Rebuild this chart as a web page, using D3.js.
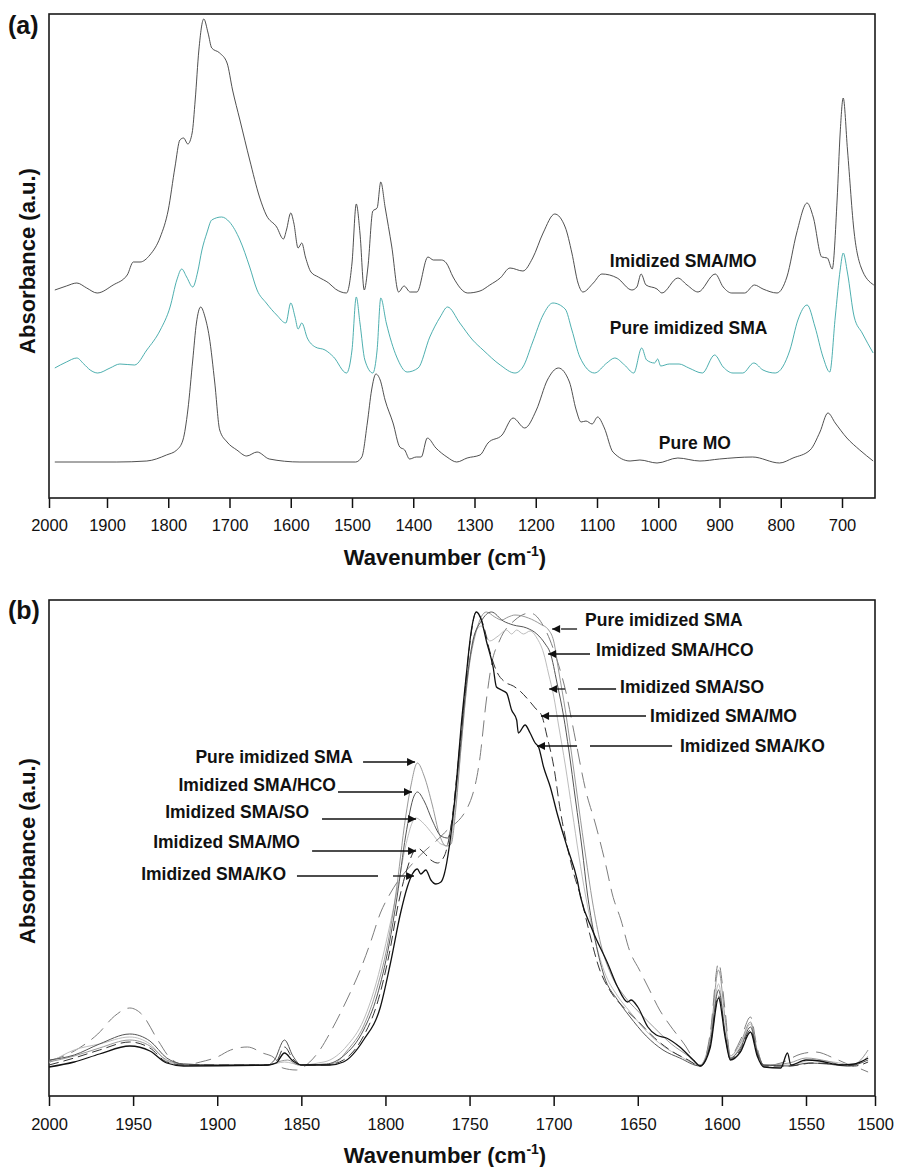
<!DOCTYPE html>
<html>
<head>
<meta charset="utf-8">
<script src="https://cdn.jsdelivr.net/npm/d3@7"></script>
<style>
  body { margin: 0; background: #fff; }
  svg text { font-family: "Liberation Sans", Arial, Helvetica, sans-serif; fill: #111; }
</style>
</head>
<body>
<div id="chart"></div>
<script>
// ---- data: [wavenumber, absorbance (a.u.)] ----
const ticksA = [2000, 1900, 1800, 1700, 1600, 1500, 1400, 1300, 1200, 1100, 1000, 900, 800, 700];
const ticksB = [2000, 1950, 1900, 1850, 1800, 1750, 1700, 1650, 1600, 1550, 1500];

// panel (a)
const imidizedSmaMo = [[1990,208],[1970,212],[1952,215],[1935,210],[1917,205],[1890,213],[1867,223],[1857,236],[1846,236],[1830,243],[1813,261],[1800,288],[1789,331],[1781,358],[1775,360],[1768,354],[1761,365],[1756,398],[1750,448],[1742,479],[1735,465],[1729,450],[1716,445],[1704,435],[1695,408],[1683,378],[1667,338],[1651,301],[1640,283],[1623,271],[1612,259],[1607,268],[1600,285],[1595,275],[1588,250],[1582,255],[1576,241],[1567,226],[1555,221],[1538,215],[1527,209],[1509,205],[1500,235],[1493,294],[1487,265],[1480,208],[1474,231],[1466,287],[1459,290],[1453,316],[1446,291],[1435,251],[1424,206],[1415,212],[1405,206],[1394,206],[1376,241],[1367,238],[1354,238],[1346,235],[1335,221],[1311,205],[1291,207],[1275,213],[1258,220],[1242,230],[1221,227],[1205,240],[1188,265],[1169,284],[1152,271],[1141,245],[1131,215],[1123,206],[1106,215],[1092,224],[1067,220],[1043,208],[1035,211],[1028,224],[1020,213],[1002,209],[994,205],[968,220],[953,213],[935,206],[907,224],[894,211],[880,205],[859,205],[843,213],[829,209],[806,205],[790,221],[774,265],[757,295],[747,281],[733,241],[724,240],[716,229],[708,298],[703,365],[698,400],[691,348],[680,265],[669,231],[648,213]];

const pureImidizedSma = [[1990,130],[1970,136],[1952,140],[1940,134],[1929,128],[1916,125],[1895,130],[1879,134],[1855,133],[1835,148],[1813,168],[1797,191],[1786,218],[1778,229],[1770,221],[1760,211],[1752,226],[1745,248],[1737,265],[1729,278],[1713,281],[1700,276],[1683,258],[1667,231],[1655,208],[1640,195],[1623,183],[1608,175],[1600,195],[1593,181],[1588,169],[1582,175],[1573,160],[1560,151],[1544,148],[1530,141],[1509,125],[1500,148],[1493,201],[1487,175],[1479,138],[1466,125],[1459,148],[1453,200],[1444,175],[1427,141],[1410,126],[1392,130],[1373,161],[1356,181],[1344,191],[1324,175],[1303,158],[1286,148],[1258,133],[1234,125],[1221,131],[1205,156],[1188,183],[1172,195],[1152,189],[1141,168],[1128,141],[1104,125],[1084,135],[1071,140],[1055,133],[1040,125],[1027,150],[1019,138],[1006,135],[1001,139],[996,132],[982,134],[966,134],[950,130],[928,125],[908,143],[894,131],[878,125],[862,125],[844,135],[829,128],[809,125],[785,148],[772,178],[757,193],[744,171],[731,141],[720,126],[711,181],[703,228],[698,245],[691,225],[680,181],[667,165],[649,145]];

const pureMo = [[1990,36],[1884,36],[1835,37],[1803,43],[1786,48],[1776,58],[1768,88],[1760,138],[1754,175],[1747,191],[1740,181],[1733,161],[1724,115],[1716,68],[1704,56],[1688,48],[1672,42],[1655,46],[1635,39],[1585,36],[1494,36],[1484,41],[1475,75],[1468,108],[1461,124],[1454,118],[1446,98],[1433,75],[1422,51],[1414,48],[1406,39],[1395,41],[1387,41],[1377,60],[1363,50],[1345,41],[1329,36],[1312,40],[1291,43],[1278,55],[1255,63],[1237,80],[1218,70],[1199,88],[1181,118],[1163,130],[1145,116],[1134,88],[1126,76],[1118,77],[1108,74],[1099,81],[1088,70],[1074,46],[1046,37],[1030,38],[1002,35],[968,40],[932,37],[900,39],[846,41],[802,35],[780,40],[752,48],[736,66],[723,85],[711,75],[692,60],[671,48],[649,37]];

// panel (b)
const bDashed = [[2000,35],[1985,45],[1971,62],[1961,80],[1952,88],[1945,82],[1935,55],[1928,38],[1919,31],[1910,34],[1900,39],[1892,46],[1882,49],[1873,43],[1866,38],[1861,28],[1853,26],[1845,34],[1839,46],[1833,63],[1823,96],[1815,126],[1809,153],[1803,183],[1797,203],[1782,236],[1765,263],[1750,293],[1744,336],[1740,396],[1737,431],[1732,456],[1723,476],[1714,483],[1704,463],[1698,436],[1693,406],[1687,356],[1681,306],[1675,271],[1669,231],[1665,201],[1660,176],[1655,146],[1649,126],[1643,106],[1637,86],[1631,71],[1622,51],[1615,33],[1612,30],[1607,62],[1602,133],[1598,84],[1595,40],[1589,56],[1583,79],[1579,48],[1575,30],[1565,33],[1553,42],[1543,44],[1530,38],[1520,32],[1512,28],[1505,24]];

const bThinGray = [[2000,34],[1985,40],[1970,48],[1952,56],[1940,50],[1930,36],[1920,32],[1900,31],[1870,31],[1862,35],[1858,36],[1852,31],[1840,31],[1830,33],[1823,45],[1813,70],[1805,108],[1798,158],[1794,200],[1788,279],[1785,309],[1781,333],[1777,320],[1772,290],[1768,262],[1764,250],[1761,252],[1758,290],[1755,350],[1751,420],[1746,465],[1740,484],[1735,479],[1731,476],[1727,479],[1723,481],[1715,478],[1708,472],[1703,466],[1700,455],[1697,425],[1693,385],[1689,338],[1685,288],[1681,240],[1677,195],[1672,152],[1666,122],[1658,100],[1650,85],[1640,68],[1630,52],[1620,40],[1613,31],[1607,58],[1602,126],[1598,76],[1595,40],[1589,53],[1583,74],[1579,46],[1575,31],[1560,33],[1550,38],[1535,35],[1520,30],[1512,34],[1505,46]];

const bHco = [[2000,36],[1985,41],[1970,52],[1952,62],[1940,55],[1930,38],[1920,32],[1900,31],[1870,31],[1866,36],[1860,56],[1855,40],[1850,31],[1835,32],[1825,40],[1813,66],[1805,100],[1798,150],[1793,200],[1788,260],[1783,300],[1781,304],[1777,295],[1772,275],[1767,260],[1763,258],[1760,280],[1756,340],[1752,410],[1748,455],[1743,475],[1737,484],[1730,475],[1724,471],[1716,468],[1710,462],[1705,452],[1702,443],[1698,413],[1694,379],[1691,346],[1687,296],[1683,246],[1680,203],[1676,162],[1670,120],[1662,96],[1655,80],[1645,60],[1635,46],[1625,38],[1613,30],[1607,52],[1602,106],[1598,62],[1595,38],[1589,48],[1583,69],[1579,44],[1575,31],[1560,30],[1548,33],[1535,32],[1520,30],[1505,36]];

const bSo = [[2000,33],[1985,46],[1970,52],[1952,59],[1940,52],[1930,35],[1920,31],[1870,31],[1860,34],[1850,31],[1840,33],[1833,36],[1823,50],[1813,76],[1805,116],[1798,166],[1793,206],[1788,250],[1782,278],[1777,272],[1772,262],[1767,252],[1762,250],[1759,280],[1755,350],[1751,420],[1747,462],[1743,470],[1738,455],[1733,460],[1728,466],[1725,462],[1722,466],[1718,462],[1714,465],[1710,458],[1706,443],[1703,422],[1700,400],[1697,370],[1693,330],[1689,285],[1685,240],[1681,200],[1676,160],[1670,125],[1662,100],[1655,85],[1645,65],[1635,50],[1625,40],[1613,31],[1607,54],[1602,112],[1598,64],[1595,38],[1589,50],[1583,72],[1579,44],[1575,31],[1560,31],[1545,36],[1530,34],[1515,31],[1505,40]];

const bMo = [[2000,31],[1985,38],[1970,46],[1952,54],[1940,48],[1930,34],[1920,31],[1870,31],[1865,34],[1860,49],[1855,37],[1850,31],[1835,31],[1825,36],[1813,60],[1805,92],[1798,140],[1792,195],[1787,228],[1783,245],[1781,248],[1777,243],[1773,236],[1769,233],[1765,240],[1761,270],[1757,330],[1753,400],[1750,450],[1746,484],[1742,472],[1738,445],[1734,425],[1729,414],[1724,410],[1720,405],[1716,398],[1711,388],[1707,380],[1704,360],[1700,330],[1696,285],[1692,250],[1688,222],[1684,200],[1679,165],[1673,128],[1666,104],[1658,88],[1650,75],[1640,58],[1630,45],[1620,36],[1613,30],[1607,50],[1602,100],[1598,60],[1595,37],[1589,46],[1583,66],[1579,42],[1575,30],[1560,30],[1545,33],[1530,32],[1515,30],[1505,34]];

const bKo = [[2000,29],[1985,34],[1970,42],[1952,50],[1940,45],[1930,33],[1920,30],[1870,31],[1865,33],[1860,43],[1855,35],[1850,31],[1833,31],[1825,34],[1813,56],[1803,89],[1797,133],[1791,183],[1787,209],[1784,222],[1781,227],[1779,222],[1776,226],[1773,216],[1770,212],[1767,214],[1765,222],[1762,250],[1758,310],[1755,370],[1752,420],[1749,465],[1746,484],[1743,476],[1740,455],[1736,429],[1734,409],[1731,406],[1728,403],[1725,386],[1722,376],[1721,363],[1717,371],[1714,363],[1711,353],[1709,349],[1706,329],[1702,309],[1698,283],[1692,249],[1686,216],[1684,199],[1677,166],[1668,133],[1662,109],[1656,94],[1654,96],[1650,89],[1644,69],[1639,61],[1633,58],[1625,49],[1617,36],[1613,30],[1607,48],[1602,98],[1598,58],[1595,36],[1589,44],[1583,64],[1579,40],[1575,29],[1565,28],[1561,43],[1559,31],[1550,36],[1540,35],[1525,31],[1515,32],[1505,38]];

// labels, anchored in data units
const labelsA = [
  { text: "Imidized SMA/MO", wn: 1079, h: 237 },
  { text: "Pure imidized SMA", wn: 1079, h: 170 },
  { text: "Pure MO", wn: 999, h: 55 }
];
const notesLeft = [
  { text: "Pure imidized SMA", wn: 1819.3, h: 339, ah: 334, segs: [[1813.3, 1782.4]] },
  { text: "Imidized SMA/HCO", wn: 1829.4, h: 311, ah: 304, segs: [[1828.2, 1784.2]] },
  { text: "Imidized SMA/SO", wn: 1845.4, h: 284, ah: 277, segs: [[1837.7, 1781.8]] },
  { text: "Imidized SMA/MO", wn: 1850.8, h: 254, ah: 245, segs: [[1843.6, 1781.8]] },
  { text: "Imidized SMA/KO", wn: 1859.1, h: 222, ah: 220, segs: [[1852.6, 1804.4], [1795.5, 1783]] }
];
const notesRight = [
  { text: "Pure imidized SMA", wn: 1681.3, h: 476, ah: 467, segs: [[1686.1, 1695.6], [1698.8, 1700.9]] },
  { text: "Imidized SMA/HCO", wn: 1674.8, h: 446, ah: 442, segs: [[1678.4, 1703.3]] },
  { text: "Imidized SMA/SO", wn: 1660.5, h: 409, ah: 407, segs: [[1662.9, 1685.5], [1693.2, 1702.7]] },
  { text: "Imidized SMA/MO", wn: 1642.7, h: 380, ah: 380, segs: [[1645.1, 1707.5]] },
  { text: "Imidized SMA/KO", wn: 1624.9, h: 350, ah: 350, segs: [[1629.6, 1678.4], [1686.1, 1709.9]] }
];

const width = 897, height = 1167;
const svg = d3.select("#chart").append("svg")
  .attr("width", width)
  .attr("height", height);

// filled arrow head for the callouts
svg.append("defs").append("marker")
  .attr("id", "arrow")
  .attr("viewBox", "0 0 10 10")
  .attr("refX", 10).attr("refY", 5)
  .attr("markerWidth", 11).attr("markerHeight", 8)
  .attr("markerUnits", "userSpaceOnUse")
  .attr("orient", "auto")
  .append("path")
  .attr("d", "M0,0L10,5L0,10z")
  .attr("fill", "#111");

// scales (the original axes are slightly uneven at the ends)
const xA = d3.scaleLinear().domain([2000, 1900, 700, 646]).range([49, 107, 842, 875]);
const yA = d3.scaleLinear().domain([0, 484]).range([498, 14]);
const xB = d3.scaleLinear().domain([2000, 1550, 1500]).range([49, 806, 875]);
const yB = d3.scaleLinear().domain([0, 496]).range([1096, 600]);

function drawPanel(x, y, ticks, pad, tag, tagY, titleY, yTitleY) {
  const xr = x.range();
  const x0 = xr[0], x1 = xr[xr.length - 1];
  const [y0, y1] = y.range();

  // ticks and tick labels
  const ax = svg.append("g")
    .attr("transform", `translate(0,${y0})`)
    .call(d3.axisBottom(x).tickValues(ticks).tickFormat(d3.format("d")).tickSize(10).tickPadding(pad));
  ax.select(".domain").remove();
  ax.attr("font-size", 16.5).attr("font-family", null).attr("color", "#111");
  ax.selectAll("line").attr("stroke-width", 1.5);

  // frame
  svg.append("rect")
    .attr("x", x0).attr("y", y1)
    .attr("width", x1 - x0).attr("height", y0 - y1)
    .attr("fill", "none")
    .attr("stroke", "#1a1a1a")
    .attr("stroke-width", 1.6);

  // x title
  const t = svg.append("text")
    .attr("x", 445).attr("y", titleY)
    .attr("text-anchor", "middle")
    .attr("font-size", 22).attr("font-weight", "bold");
  t.append("tspan").text("Wavenumber (cm");
  t.append("tspan").attr("font-size", 14).attr("dy", -9).text("-1");
  t.append("tspan").attr("dy", 9).text(")");

  // y title
  svg.append("text")
    .attr("transform", `translate(27,${yTitleY}) rotate(-90)`)
    .attr("text-anchor", "middle")
    .attr("dominant-baseline", "central")
    .attr("font-size", 22).attr("font-weight", "bold")
    .text("Absorbance (a.u.)");

  // panel tag
  svg.append("text")
    .attr("x", 8).attr("y", tagY)
    .attr("font-size", 25).attr("font-weight", "bold")
    .text(tag);
}

drawPanel(xA, yA, ticksA, 11, "(a)", 34, 565, 261);
drawPanel(xB, yB, ticksB, 12, "(b)", 619, 1163, 851);

function drawLine(x, y, data, color, w, dash) {
  const line = d3.line()
    .x(d => x(d[0]))
    .y(d => y(d[1]))
    .curve(d3.curveMonotoneX);
  svg.append("path")
    .datum(data)
    .attr("fill", "none")
    .attr("stroke", color)
    .attr("stroke-width", w)
    .attr("stroke-dasharray", dash || null)
    .attr("stroke-linejoin", "round")
    .attr("d", line);
}

// panel (a) spectra
drawLine(xA, yA, imidizedSmaMo, "#3c3c3c", 0.9);
drawLine(xA, yA, pureImidizedSma, "#3aa6a6", 0.9);
drawLine(xA, yA, pureMo, "#3c3c3c", 0.9);

svg.append("g").selectAll("text")
  .data(labelsA)
  .enter().append("text")
  .attr("x", d => xA(d.wn))
  .attr("y", d => yA(d.h))
  .attr("dy", "0.35em")
  .attr("font-size", 17.5).attr("font-weight", "bold")
  .text(d => d.text);

// panel (b) spectra
drawLine(xB, yB, bDashed, "#7d7d7d", 1, "16,8");
drawLine(xB, yB, bSo, "#bdbdbd", 1);
drawLine(xB, yB, bThinGray, "#8c8c8c", 0.9);
drawLine(xB, yB, bHco, "#555", 1);
drawLine(xB, yB, bMo, "#333", 1, "10,5");
drawLine(xB, yB, bKo, "#111", 1.3);

function drawNotes(notes, anchor) {
  const g = svg.append("g");
  g.selectAll("text")
    .data(notes)
    .enter().append("text")
    .attr("x", d => xB(d.wn))
    .attr("y", d => yB(d.h))
    .attr("dy", "0.35em")
    .attr("text-anchor", anchor)
    .attr("font-size", 17.5).attr("font-weight", "bold")
    .text(d => d.text);
  notes.forEach(d => {
    d.segs.forEach((s, i) => {
      g.append("line")
        .attr("x1", xB(s[0])).attr("x2", xB(s[1]))
        .attr("y1", yB(d.ah)).attr("y2", yB(d.ah))
        .attr("stroke", "#111")
        .attr("stroke-width", 1.3)
        .attr("marker-end", i === d.segs.length - 1 ? "url(#arrow)" : null);
    });
  });
}
drawNotes(notesLeft, "end");
drawNotes(notesRight, "start");
</script>
</body>
</html>
